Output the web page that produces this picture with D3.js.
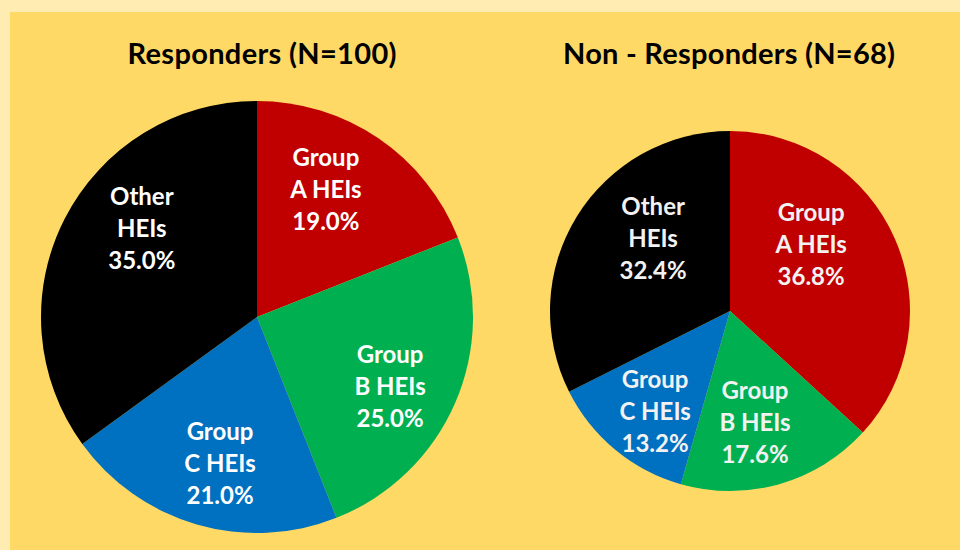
<!DOCTYPE html>
<html>
<head>
<meta charset="utf-8">
<script src="https://cdn.jsdelivr.net/npm/d3@7"></script>
<style>
html,body{margin:0;padding:0;background:#FFECB3;}
svg{display:block;}
</style>
</head>
<body>
<svg id="chart" width="960" height="550"></svg>
<script>
// ---- data ----
const categories = ["Group A HEIs", "Group B HEIs", "Group C HEIs", "Other HEIs"];
const labelLines = [["Group", "A HEIs"], ["Group", "B HEIs"], ["Group", "C HEIs"], ["Other", "HEIs"]];
const respondersValues = [19.0, 25.0, 21.0, 35.0];
const nonRespondersValues = [36.8, 17.6, 13.2, 32.4];
const titles = ["Responders (N=100)", "Non - Responders (N=68)"];
const colors = ["#C00000", "#00B050", "#0070C0", "#000000"];

// ---- layout ----
const W = 960, H = 550;
const svg = d3.select("#chart");
svg.append("rect").attr("x", 10).attr("y", 12).attr("width", W - 10).attr("height", H - 12).attr("fill", "#FFD966");

const pies = [
  { title: titles[0], values: respondersValues, cx: 257, cy: 317, r: 216, titleX: 262, titleW: 269, textColor: "#FFFFFF",
    labelPolar: [[28.1, 0.677], [117.1, 0.692], [194.3, 0.693], [307.7, 0.674]] },
  { title: titles[1], values: nonRespondersValues, cx: 730, cy: 311, r: 180, titleX: 729, titleW: 332, textColor: "#F2F2F2",
    labelPolar: [[50.4, 0.585], [167.3, 0.632], [217.1, 0.69], [313.9, 0.593]] }
];

const font = "Lato, 'Open Sans', sans-serif";

pies.forEach(p => {
  const g = svg.append("g").attr("transform", `translate(${p.cx},${p.cy})`);
  const pie = d3.pie().sort(null).value(d => d);
  const arcs = pie(p.values);
  const arc = d3.arc().innerRadius(0).outerRadius(p.r);
  g.selectAll("path").data(arcs).enter().append("path")
    .attr("d", arc)
    .attr("fill", (d, i) => colors[i]);

  arcs.forEach((d, i) => {
    const [deg, frac] = p.labelPolar[i];
    const a = deg * Math.PI / 180;
    const x = Math.sin(a) * p.r * frac;
    const y = -Math.cos(a) * p.r * frac;
    const lines = labelLines[i].concat([d.data.toFixed(1) + "%"]);
    const t = g.append("text")
      .attr("text-anchor", "middle")
      .attr("font-family", font)
      .attr("font-weight", "bold")
      .attr("font-size", 24)
      .attr("fill", p.textColor);
    lines.forEach((ln, k) => {
      t.append("tspan")
        .attr("x", x)
        .attr("y", y + (k - 1) * 32)
        .attr("dominant-baseline", "central")
        .text(ln);
    });
  });

  svg.append("text")
    .attr("x", p.titleX)
    .attr("y", 64)
    .attr("text-anchor", "middle")
    .attr("font-family", font)
    .attr("font-weight", "bold")
    .attr("font-size", 29)
    .attr("textLength", p.titleW)
    .attr("lengthAdjust", "spacing")
    .attr("fill", "#000")
    .text(p.title);
});
</script>
</body>
</html>
